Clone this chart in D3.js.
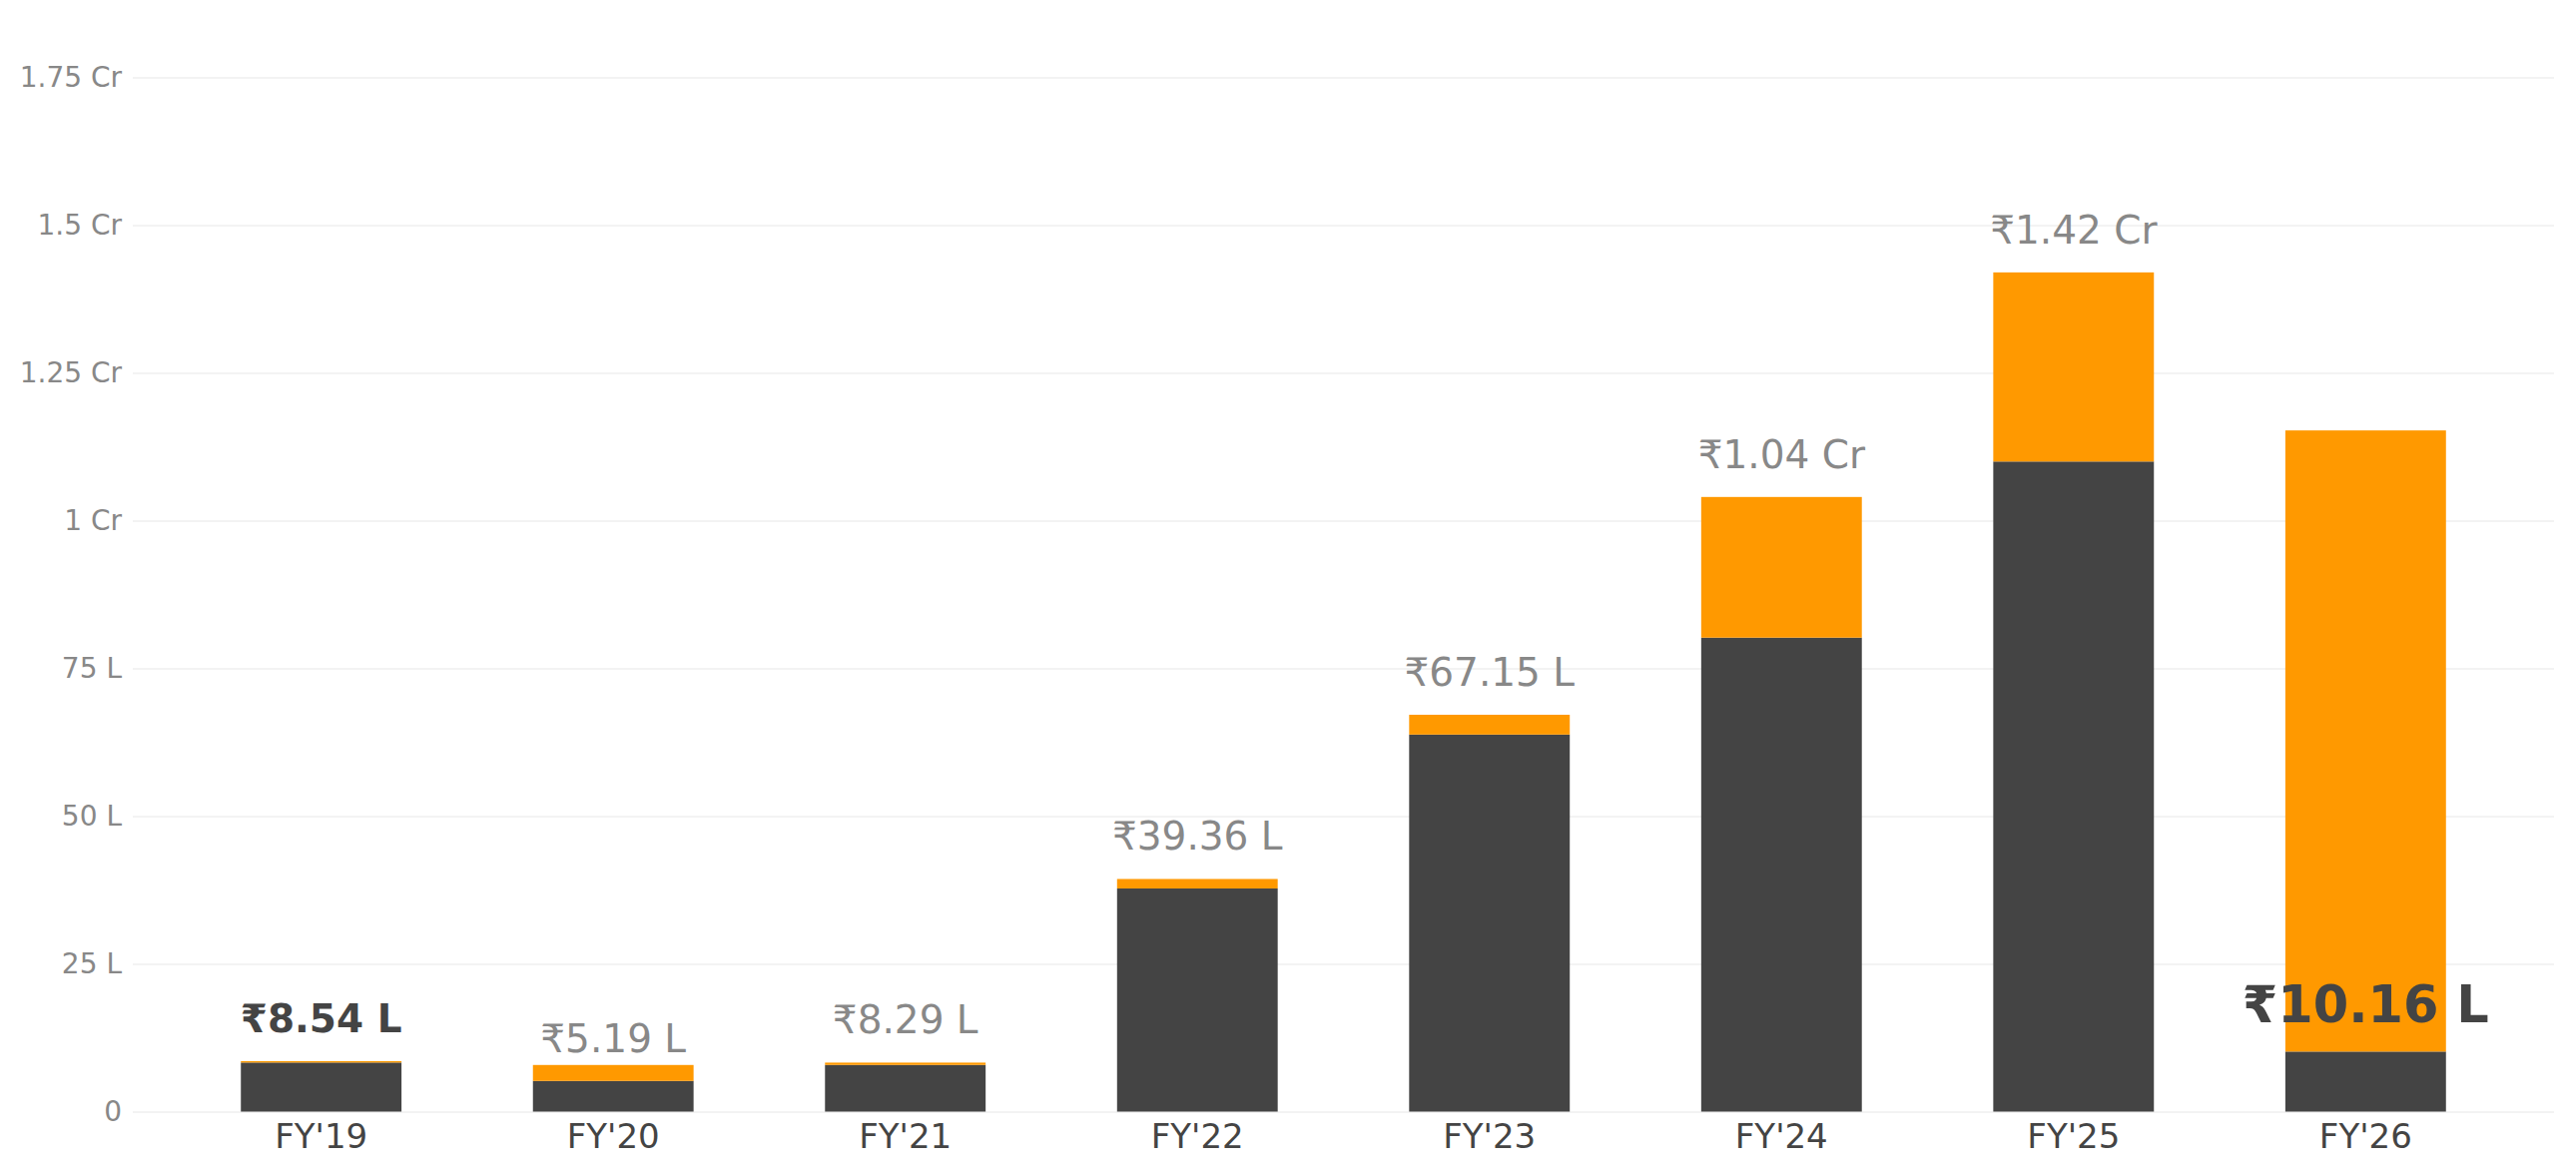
<!DOCTYPE HTML>
<html>
<head>
    <meta charset="utf-8">
    <title>FY stacked bars</title>
    <script type="text/javascript" src="https://cdn.jsdelivr.net/npm/d3@7/dist/d3.min.js"></script>
    <style>
        body {
            margin: 0;
            background-color: white;
        }
        svg text {
            font-family: "DejaVu Sans", sans-serif;
        }
    </style>
</head>

<body>
    <div id="panel"></div>

    <script>
        // values are in lakh (1 Cr = 100 L)
        var years = ["FY'19", "FY'20", "FY'21", "FY'22", "FY'23", "FY'24", "FY'25", "FY'26"];
        var base_values = [8.30, 5.19, 7.90, 37.76, 63.8, 80.2, 110.0, 10.16];
        var top_values = [0.24, 2.70, 0.39, 1.60, 3.35, 23.8, 32.0, 105.1];
        var label_values = [8.54, 5.19, 8.29, 39.36, 67.15, 104, 142, 10.16];
        var label_texts = ["₹8.54 L", "₹5.19 L", "₹8.29 L", "₹39.36 L", "₹67.15 L", "₹1.04 Cr", "₹1.42 Cr", "₹10.16 L"];
        var tick_values = [0, 25, 50, 75, 100, 125, 150, 175];
        var tick_labels = ["0", "25 L", "50 L", "75 L", "1 Cr", "1.25 Cr", "1.5 Cr", "1.75 Cr"];

        var width = 2580, height = 1177;
        var plot_left = 133, plot_right = 2558;
        var plot_top = 77.5, plot_bottom = 1113.5;

        var svg = d3.select("#panel").append("svg")
                    .attr("width", width)
                    .attr("height", height)
                    .style("background", "white");

        var x = d3.scaleBand()
                  .domain(years)
                  .range([plot_left, plot_right])
                  .paddingInner(0.45)
                  .paddingOuter(0.37);

        var y = d3.scaleLinear()
                  .domain([0, 175])
                  .range([plot_bottom, plot_top]);

        // grid + y labels
        var y_axis = svg.append("g")
                        .attr("transform", "translate(" + plot_left + ",0)")
                        .call(d3.axisLeft(y)
                                .tickValues(tick_values)
                                .tickFormat(function(d, i){ return tick_labels[i]; })
                                .tickSize(-(plot_right - plot_left))
                                .tickPadding(11));
        y_axis.select(".domain").remove();
        y_axis.selectAll(".tick line")
              .attr("stroke", "#efefef")
              .attr("stroke-width", 1.5);
        y_axis.selectAll(".tick text")
              .attr("fill", "#888888")
              .style("font-size", "28px");

        // stacked bars
        var rows = years.map(function(d, i){
            return {year: d, base: base_values[i], extra: top_values[i]};
        });
        var stack = d3.stack().keys(["base", "extra"])(rows);
        var colors = {"base": "#444444", "extra": "#ff9900"};

        svg.append("g")
           .selectAll("g")
           .data(stack)
           .join("g")
             .attr("fill", function(s){ return colors[s.key]; })
           .selectAll("rect")
           .data(function(s){ return s; })
           .join("rect")
             .attr("x", function(d){ return x(d.data.year); })
             .attr("y", function(d){ return y(d[1]); })
             .attr("width", x.bandwidth())
             .attr("height", function(d){ return y(d[0]) - y(d[1]); });

        // x axis labels
        var x_axis = svg.append("g")
                        .attr("transform", "translate(0," + plot_bottom + ")")
                        .call(d3.axisBottom(x).tickSize(0));
        x_axis.select(".domain").remove();
        x_axis.selectAll(".tick text")
              .attr("y", 36.5)
              .attr("dy", 0)
              .attr("fill", "#444444")
              .style("font-size", "34px");

        // value labels
        svg.append("g")
           .selectAll("text")
           .data(label_texts)
           .join("text")
             .attr("x", function(d, i){ return x(years[i]) + x.bandwidth() / 2; })
             .attr("y", function(d, i){ return y(label_values[i]) - 29; })
             .attr("text-anchor", "middle")
             .attr("fill", function(d, i){ return (i === 0 || i === years.length - 1) ? "#444444" : "#888888"; })
             .style("font-weight", function(d, i){ return (i === 0 || i === years.length - 1) ? "bold" : "normal"; })
             .style("font-size", function(d, i){ return i === years.length - 1 ? "51px" : "39px"; })
             .text(function(d){ return d; });
    </script>
</body>
</html>
